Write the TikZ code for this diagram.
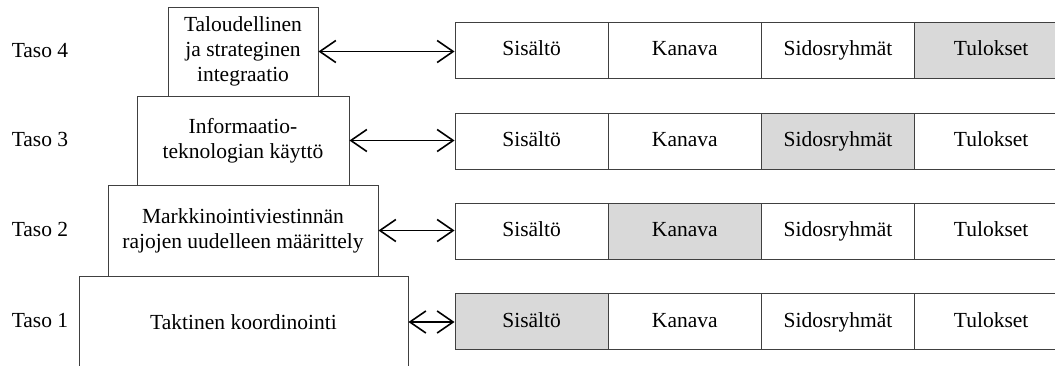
\documentclass[tikz,border=0pt]{standalone}
\usepackage{fontspec}
\setmainfont{Liberation Serif}
\usetikzlibrary{arrows.meta}
\begin{document}
\begin{tikzpicture}[x=1pt,y=-1pt,
  txt/.style={font=\fontsize{21.5}{25}\selectfont},
  level/.style={txt, draw=black!75, line width=0.9pt, fill=white, align=center, inner sep=0pt},
  cell/.style={txt, draw=black!75, line width=0.9pt, minimum width=153.2pt, minimum height=56pt, inner sep=0pt, text height=15pt, text depth=4pt},
  hit/.style={cell, fill=black!15},
  tag/.style={txt, text height=15pt, text depth=4pt},
  barb/.tip={Straight Barb[length=16pt,width=22pt,line width=1.6pt]},
  link/.style={barb-barb, line width=1.5pt}]
\useasboundingbox (0,0) rectangle (1055,365);

% stepped pyramid of integration levels
\node[level, minimum width=329pt, minimum height=92pt] (b1) at (243.5,322) {Taktinen koordinointi};
\node[level, minimum width=270pt, minimum height=91pt] (b2) at (243,230.5) {Markkinointiviestinnän\\rajojen uudelleen määrittely};
\node[level, minimum width=212pt, minimum height=89pt] (b3) at (243,140.5) {Informaatio-\\teknologian käyttö};
\node[level, minimum width=150pt, minimum height=89pt] (b4) at (243,51.5) {Taloudellinen\\ja strateginen\\integraatio};

% level labels
\node[tag] (t4) at (40,52) {Taso 4};
\node[tag] (t3) at (40,141) {Taso 3};
\node[tag] (t2) at (40,231) {Taso 2};
\node[tag] (t1) at (40,322) {Taso 1};

% dimension rows
\node[cell] (c41) at (531.6,50) {Sisältö};
\node[cell] (c42) at (684.8,50) {Kanava};
\node[cell] (c43) at (838.0,50) {Sidosryhmät};
\node[hit]  (c44) at (991.2,50) {Tulokset};

\node[cell] (c31) at (531.6,141) {Sisältö};
\node[cell] (c32) at (684.8,141) {Kanava};
\node[hit]  (c33) at (838.0,141) {Sidosryhmät};
\node[cell] (c34) at (991.2,141) {Tulokset};

\node[cell] (c21) at (531.6,231) {Sisältö};
\node[hit]  (c22) at (684.8,231) {Kanava};
\node[cell] (c23) at (838.0,231) {Sidosryhmät};
\node[cell] (c24) at (991.2,231) {Tulokset};

\node[hit]  (c11) at (531.6,321.5) {Sisältö};
\node[cell] (c12) at (684.8,321.5) {Kanava};
\node[cell] (c13) at (838.0,321.5) {Sidosryhmät};
\node[cell] (c14) at (991.2,321.5) {Tulokset};

% two-way links between levels and rows
\draw[link] (b4.east) -- (b4.east -| c41.west);
\draw[link] (b3.east) -- (b3.east -| c31.west);
\draw[link] (b2.east) -- (b2.east -| c21.west);
\draw[link] (b1.east) -- (b1.east -| c11.west);
\end{tikzpicture}
\end{document}
